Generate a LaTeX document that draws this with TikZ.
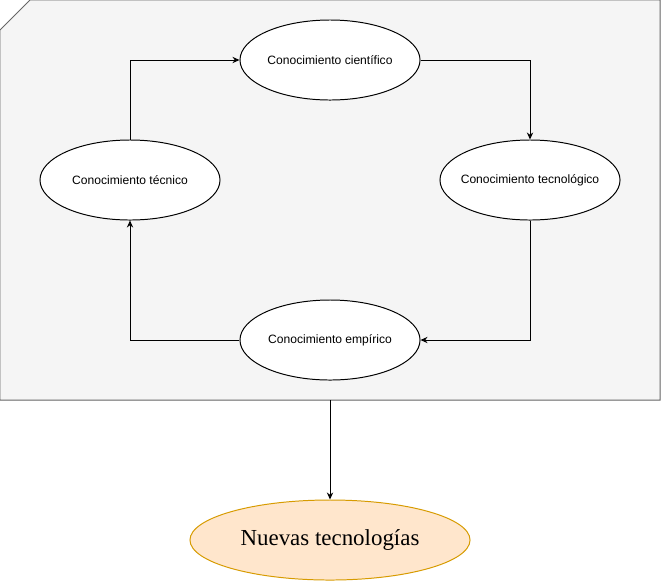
\documentclass[tikz,border=0pt]{standalone}
\usepackage{fontspec}
\setmainfont{Liberation Serif}
\setsansfont{Liberation Sans}
\definecolor{cardgray}{RGB}{245, 245, 245}
\definecolor{cardline}{RGB}{102, 102, 102}
\definecolor{techfill}{RGB}{255, 230, 204}
\definecolor{techline}{RGB}{215, 155, 0}
\usetikzlibrary{shapes.geometric, arrows.meta, positioning}

\begin{document}
\begin{tikzpicture}[x=0.025cm, y=-0.025cm, >={Stealth[length=5pt, width=4.5pt]}, line width=0.7pt,
    saber/.style={draw, ellipse, fill=white, inner xsep=-12pt, inner ysep=0pt,
        minimum width=4.5cm, minimum height=2cm,
        font=\sffamily\fontsize{8.6}{10}\selectfont},
    flecha/.style={->}]
    \useasboundingbox (0,0) rectangle (661,581);
    % Card
    \draw[fill=cardgray, draw=cardline] (0,30) -- (30,0) -- (660,0) -- (660,400) -- (0,400) -- cycle;
    \coordinate (cardbot) at (330,400);

    % Knowledge nodes
    \node[saber] (cien) at (330,60) {Conocimiento científico};
    \node[saber] (tecnol) at (530,180) {Conocimiento tecnológico};
    \node[saber] (emp) at (330,340) {Conocimiento empírico};
    \node[saber] (tecn) at (130,180) {Conocimiento técnico};

    % Cycle
    \draw[flecha] (tecn.north) |- (cien.west);
    \draw[flecha] (cien.east) -| (tecnol.north);
    \draw[flecha] (tecnol.south) |- (emp.east);
    \draw[flecha] (emp.west) -| (tecn.south);

    % Result
    \node[draw=techline, ellipse, fill=techfill, inner sep=0pt,
        minimum width=7cm, minimum height=2cm,
        font=\fontsize{16.3}{19}\selectfont] (nuevas) at (330,540) {Nuevas tecnologías};
    \draw[flecha] (cardbot) -- (nuevas.north);
\end{tikzpicture}
\end{document}
